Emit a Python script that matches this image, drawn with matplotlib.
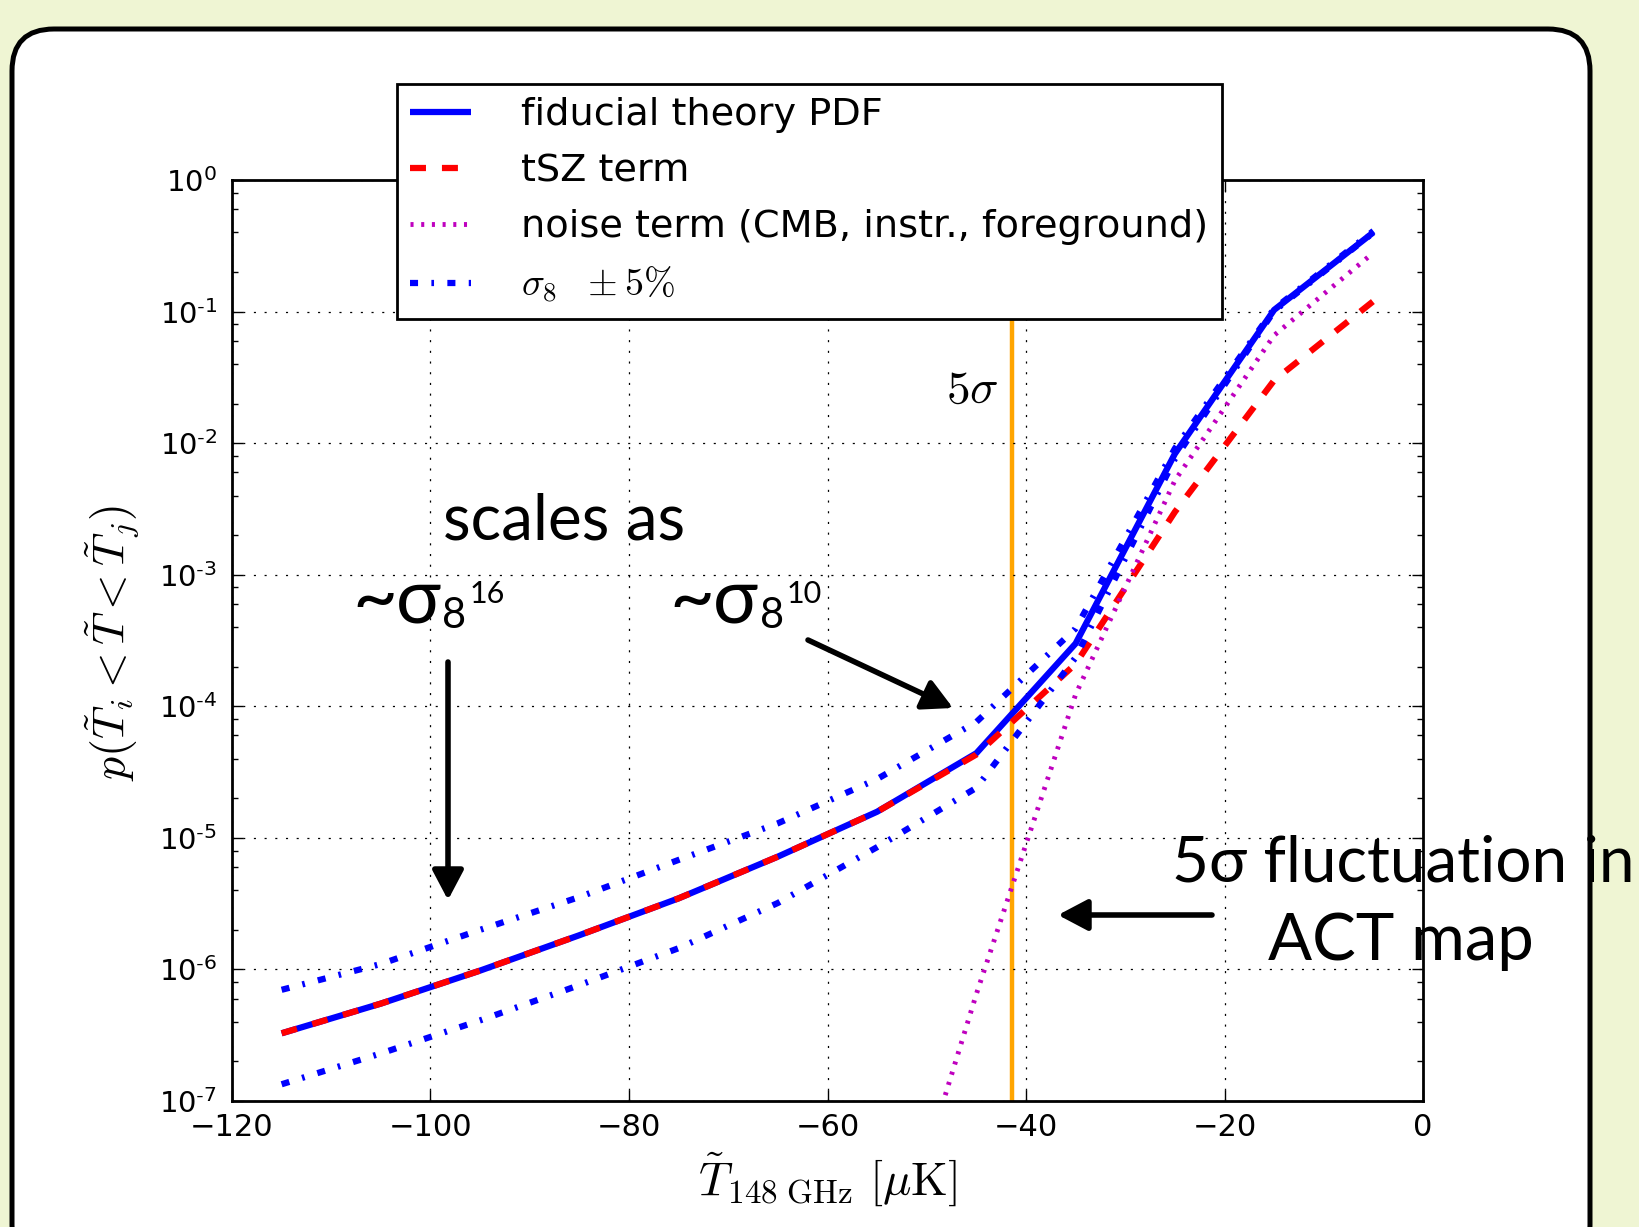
import numpy as np
import matplotlib
matplotlib.use("Agg")
import matplotlib.pyplot as plt
from matplotlib.patches import FancyBboxPatch, FancyArrowPatch
from matplotlib.transforms import IdentityTransform
from matplotlib.ticker import LogLocator, FuncFormatter, NullFormatter

W, H = 1639, 1227
BG = "#eff5d3"

t_bins = [-115, -105, -95, -85, -75, -65, -55, -45, -35, -25, -15, -5]
p_fid = [3.27e-7, 5.5e-7, 9.8e-7, 1.82e-6, 3.47e-6, 7.2e-6, 1.58e-5, 4.4e-5, 3.0e-4, 8.3e-3, 0.103, 0.40]
p_tsz = [3.27e-7, 5.5e-7, 9.8e-7, 1.82e-6, 3.47e-6, 7.2e-6, 1.58e-5, 4.3e-5, 2.1e-4, 3.0e-3, 3.0e-2, 0.12]
p_sig_hi = [7.0e-7, 1.10e-6, 2.0e-6, 3.55e-6, 6.8e-6, 1.29e-5, 2.8e-5, 7.6e-5, 3.9e-4, 9.1e-3, 0.105, 0.41]
p_sig_lo = [1.34e-7, 2.3e-7, 4.1e-7, 7.6e-7, 1.45e-6, 3.2e-6, 8.5e-6, 2.4e-5, 2.35e-4, 7.6e-3, 0.101, 0.398]
t_noise = [-55, -45, -35, -25, -15, -5]
p_noise = [2.3e-9, 6.5e-7, 1.23e-4, 5.2e-3, 0.066, 0.28]
T_5SIG = -41.4

xticks = [-120, -100, -80, -60, -40, -20, 0]

plt.rcParams["mathtext.fontset"] = "cm"
plt.rcParams["lines.scale_dashes"] = False

DASH = (0, (11.5, 11.5))
DASHDOT = (0, (5.8, 9.6, 1.9, 9.6))
DOT = (0, (2.2, 5.5))

ANN = ["Lato", "Noto Sans", "DejaVu Sans"]


def px(x, y):
    """figure pixels (from top-left) -> figure fraction"""
    return x / W, 1 - y / H


def logfmt(v, pos):
    e = int(round(np.log10(v)))
    s = r"\text{-}%d" % -e if e < 0 else "%d" % e
    return r"$\mathdefault{10^{%s}}$" % s


fig = plt.figure(figsize=(W / 100, H / 100), dpi=100, facecolor=BG)

frame = FancyBboxPatch((12, -40), 1578, H - 29 + 40,
                       boxstyle="round,pad=0,rounding_size=42",
                       transform=IdentityTransform(), facecolor="white",
                       edgecolor="black", lw=3.6, zorder=-5)
fig.add_artist(frame)

ax = fig.add_axes([232 / W, 1 - 1101 / H, 1191 / W, 921 / H])
ax.set_facecolor("white")

ax.plot(t_bins, p_fid, color="blue", lw=4.5, solid_capstyle="butt", label="fiducial theory PDF")
ax.plot(t_bins, p_tsz, color="red", lw=4.5, ls=DASH, dash_capstyle="butt", label="tSZ term")
ax.plot(t_noise, p_noise, color="m", lw=3.5, ls=DOT, dash_capstyle="butt",
        label="noise term (CMB, instr., foreground)")
ax.plot(t_bins, p_sig_hi, color="blue", lw=4.5, ls=DASHDOT, dash_capstyle="butt",
        label=r"$\sigma_8\ \ \pm5\%$")
ax.plot(t_bins, p_sig_lo, color="blue", lw=4.5, ls=DASHDOT, dash_capstyle="butt")
ax.axvline(T_5SIG, color="orange", lw=3.2, zorder=1.5)
ax.text(T_5SIG - 1.4, 10 ** -1.6, r"$5\sigma$", fontsize=34, ha="right", va="center")

ax.set_yscale("log")
ax.set_xlim(-120, 0)
ax.set_ylim(1e-7, 1)
ax.set_xticks(xticks)
ax.yaxis.set_major_locator(LogLocator(base=10, numticks=20))
ax.yaxis.set_minor_locator(LogLocator(base=10, subs=(2, 4, 6, 8), numticks=20))
ax.yaxis.set_major_formatter(FuncFormatter(logfmt))
ax.yaxis.set_minor_formatter(NullFormatter())
ax.grid(True, which="major", color="k", ls=(0, (1.5, 6.2)), lw=0.9)
ax.tick_params(which="both", direction="in", top=True, right=True, width=1)
ax.tick_params(which="major", length=8)
ax.tick_params(which="minor", length=4.5)
ax.tick_params(axis="x", labelsize=22, pad=9)
ax.tick_params(axis="y", labelsize=21, pad=11)
for sp in ax.spines.values():
    sp.set_linewidth(2)

leg = ax.legend(loc="upper left", bbox_to_anchor=px(397, 84), bbox_transform=fig.transFigure,
                fontsize=27.5, frameon=True, fancybox=False, edgecolor="black",
                handlelength=1.6, handletextpad=1.3, borderpad=0.35, labelspacing=0.52,
                borderaxespad=0)
leg.get_frame().set_linewidth(2)
leg.get_frame().set_alpha(1)

# axis labels
fig.text(*px(112, 643), r"$p(\tilde{T}_i<\tilde{T}<\tilde{T}_j)$", rotation=90,
         fontsize=33, ha="center", va="center")
fig.text(*px(827, 1195), r"$\tilde{T}_{148\ \mathrm{GHz}}\ [\mu\mathrm{K}]$",
         fontsize=34, ha="center", va="baseline")

# slide annotations
fig.text(*px(443, 540), "scales as", fontsize=46, family=ANN, va="baseline")
for x_t, x_s, x_8, x_p, power in [(352, 396, 442, 470, "16"), (669, 713, 760, 787, "10")]:
    fig.text(*px(x_t, 623), "~", fontsize=56, family=ANN, va="baseline")
    fig.text(*px(x_s, 623), "σ", fontsize=54, family=ANN, va="baseline")
    fig.text(*px(x_8, 628), "8", fontsize=30, family=ANN, va="baseline")
    fig.text(*px(x_p, 603), power, fontsize=22, family=ANN, va="baseline")
fig.text(*px(1172, 882), "5σ fluctuation in", fontsize=46, family=ANN, va="baseline")
fig.text(*px(1268, 960), "ACT map", fontsize=47, family=ANN, va="baseline")

for (x0, y0), (x1, y1) in [((448, 662), (448, 900)),
                           ((808, 640), (953, 708)),
                           ((1212, 915), (1058, 915))]:
    arr = FancyArrowPatch((x0, H - y0), (x1, H - y1), transform=IdentityTransform(),
                          arrowstyle="-|>,head_length=18,head_width=9.5", mutation_scale=1,
                          color="black", lw=4, shrinkA=0, shrinkB=0, zorder=4)
    fig.add_artist(arr)

fig.savefig("out.png", dpi=100, facecolor=BG)
